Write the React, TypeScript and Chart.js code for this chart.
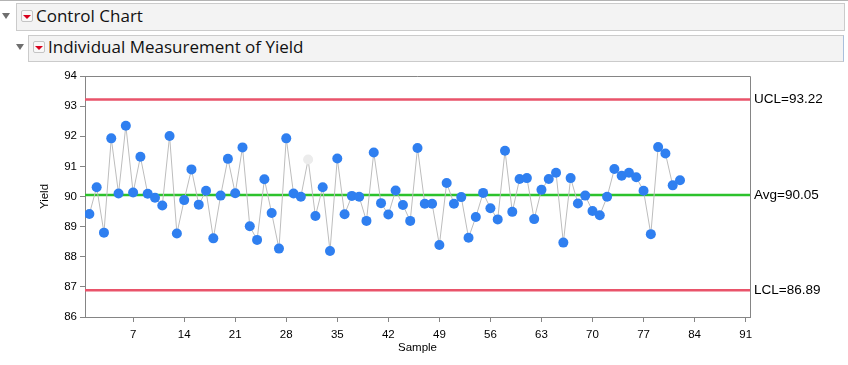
import React, { useEffect, useRef } from "react";
import { Chart, registerables } from "chart.js";

Chart.register(...registerables);

const yieldValues: number[] = [
  89.42, 90.31, 88.8, 91.93, 90.1, 92.35, 90.13, 91.32, 90.09, 89.96,
  89.7, 92.01, 88.77, 89.88, 90.9, 89.73, 90.19, 88.61, 90.03, 91.25,
  90.11, 91.63, 89.01, 88.56, 90.57, 89.45, 88.27, 91.93, 90.1, 89.99,
  91.23, 89.35, 90.31, 88.19, 91.26, 89.41, 90.02, 89.99, 89.19, 91.46,
  89.78, 89.4, 90.2, 89.72, 89.19, 91.61, 89.76, 89.76, 88.39, 90.45,
  89.76, 89.98, 88.63, 89.32, 90.12, 89.61, 89.24, 91.52, 89.49, 90.58,
  90.61, 89.25, 90.22, 90.58, 90.79, 88.47, 90.61, 89.77, 90.03, 89.52,
  89.38, 89.99, 90.91, 90.69, 90.79, 90.64, 90.19, 88.75, 91.64, 91.43,
  90.37, 90.54,
];
const excludedSamples: number[] = [31];
const xTickValues: number[] = [7, 14, 21, 28, 35, 42, 49, 56, 63, 70, 77, 84, 91];
const yTickValues: number[] = [86, 87, 88, 89, 90, 91, 92, 93, 94];
const limitNames: string[] = ["UCL", "Avg", "LCL"];
const limitValues: number[] = [93.22, 90.05, 86.89];
const limitColors: string[] = ["#e9536a", "#2cc22c", "#e9536a"];

const TRI = (color: string, w: number, h: number): React.CSSProperties => ({
  position: "absolute",
  width: 0,
  height: 0,
  borderLeft: `${w / 2}px solid transparent`,
  borderRight: `${w / 2}px solid transparent`,
  borderTop: `${h}px solid ${color}`,
});

function Header({ top, left, boxLeft, boxTop, boxH, text, right }: any) {
  return (
    <>
      <div style={{ ...TRI("#6f6f6f", 8, 6), left: left, top: top - 3 }} />
      <div
        style={{
          position: "absolute",
          left: boxLeft,
          top: boxTop,
          width: right - boxLeft,
          height: boxH,
          background: "#f3f3f3",
          border: "1px solid #cbcbcb",
          borderRight: right < 845 ? "1px solid #a9bfdc" : "1px solid #cbcbcb",
          boxSizing: "border-box",
        }}
      />
      <div
        style={{
          position: "absolute",
          left: boxLeft + 5,
          top: top - 6,
          width: 12,
          height: 12,
          background: "#f8f8f8",
          border: "1px solid #c4c4c4",
          borderRadius: 2,
          boxSizing: "border-box",
        }}
      >
        <div style={{ ...TRI("#d8001c", 8, 4), left: 1, top: 3.5 }} />
      </div>
      <div
        style={{
          position: "absolute",
          left: boxLeft + 20,
          top: top - 12,
          height: 24,
          lineHeight: "24px",
          fontFamily: "'Open Sans', sans-serif",
          fontSize: 17,
          color: "#111",
          whiteSpace: "nowrap",
        }}
      >
        {text}
      </div>
    </>
  );
}

export default function App() {
  const ref = useRef<HTMLCanvasElement | null>(null);

  useEffect(() => {
    if (!ref.current) return;
    const limitPlugin = {
      id: "limits",
      beforeDatasetsDraw(chart: any) {
        const { ctx, chartArea } = chart;
        const y = chart.scales.y;
        ctx.save();
        ctx.beginPath();
        ctx.rect(chartArea.left, chartArea.top, chartArea.right - chartArea.left, chartArea.bottom - chartArea.top);
        ctx.clip();
        limitValues.forEach((v, i) => {
          const py = y.getPixelForValue(v);
          ctx.strokeStyle = limitColors[i];
          ctx.lineWidth = 2.5;
          ctx.beginPath();
          ctx.moveTo(chartArea.left, py);
          ctx.lineTo(chartArea.right, py);
          ctx.stroke();
        });
        ctx.restore();
      },
      afterDraw(chart: any) {
        const { ctx, chartArea } = chart;
        const y = chart.scales.y;
        ctx.save();
        ctx.strokeStyle = "#858585";
        ctx.lineWidth = 1;
        ctx.beginPath();
        ctx.moveTo(chartArea.left, chartArea.top + 0.5);
        ctx.lineTo(chartArea.right + 0.5, chartArea.top + 0.5);
        ctx.lineTo(chartArea.right + 0.5, chartArea.bottom);
        ctx.stroke();
        ctx.fillStyle = "#000";
        ctx.font = "13.5px 'Liberation Sans', Arial, sans-serif";
        ctx.textBaseline = "middle";
        ctx.textAlign = "left";
        limitValues.forEach((v, i) => {
          ctx.fillText(`${limitNames[i]}=${v.toFixed(2)}`, chartArea.right + 4, y.getPixelForValue(v));
        });
        ctx.restore();
      },
    };

    const tickFont = { family: "'Liberation Sans', Arial, sans-serif", size: 11.5 };
    const chart = new Chart(ref.current, {
      type: "line",
      data: {
        datasets: [
          {
            data: yieldValues.map((v, i) => ({ x: i + 1, y: v })),
            borderColor: "#bdbdbd",
            borderWidth: 1,
            tension: 0,
            pointRadius: 5,
            pointBorderWidth: 0,
            pointBackgroundColor: (c: any) =>
              excludedSamples.includes(c.dataIndex + 1) ? "#ececec" : "#2f7ff0",
            pointBorderColor: "rgba(0,0,0,0)",
          },
        ],
      },
      options: {
        animation: false,
        responsive: false,
        events: [],
        layout: { padding: { left: 38, right: 98, top: 76, bottom: 10 } },
        plugins: { legend: { display: false }, tooltip: { enabled: false } },
        scales: {
          x: {
            type: "linear",
            min: 0.4,
            max: 91.6,
            afterBuildTicks: (s: any) => {
              s.ticks = xTickValues.map((v) => ({ value: v }));
            },
            afterFit: (s: any) => {
              s.height = 38;
            },
            grid: { drawOnChartArea: false, drawTicks: true, tickLength: 5, color: "#858585" },
            border: { display: true, color: "#858585" },
            ticks: { font: tickFont, color: "#000", padding: 6, maxRotation: 0, autoSkip: false },
            title: {
              display: true,
              text: "Sample",
              font: tickFont,
              color: "#000",
              padding: 0,
            },
          },
          y: {
            type: "linear",
            min: 86,
            max: 94,
            afterBuildTicks: (s: any) => {
              s.ticks = yTickValues.map((v) => ({ value: v }));
            },
            afterFit: (s: any) => {
              s.width = 47;
            },
            grid: { drawOnChartArea: false, drawTicks: true, tickLength: 5, color: "#858585" },
            border: { display: true, color: "#858585" },
            ticks: { font: tickFont, color: "#000", padding: 3 },
            title: {
              display: true,
              text: "Yield",
              font: tickFont,
              color: "#000",
              padding: 0,
            },
          },
        },
      },
      plugins: [limitPlugin],
    } as any);
    return () => chart.destroy();
  }, []);

  return (
    <div style={{ position: "fixed", left: 0, top: 0, width: 848, height: 365, background: "#fff", overflow: "hidden" }}>
      <canvas ref={ref} width={848} height={365} style={{ position: "absolute", left: 0, top: 0 }} />
      <div style={{ position: "absolute", left: 0, top: 0, width: 848, height: 1, background: "#b3b3b3" }} />
      <Header top={16} left={2} boxLeft={16} boxTop={3} boxH={28} right={845} text="Control Chart" />
      <Header top={47} left={16} boxLeft={28} boxTop={35} boxH={27} right={844} text="Individual Measurement of Yield" />
    </div>
  );
}
